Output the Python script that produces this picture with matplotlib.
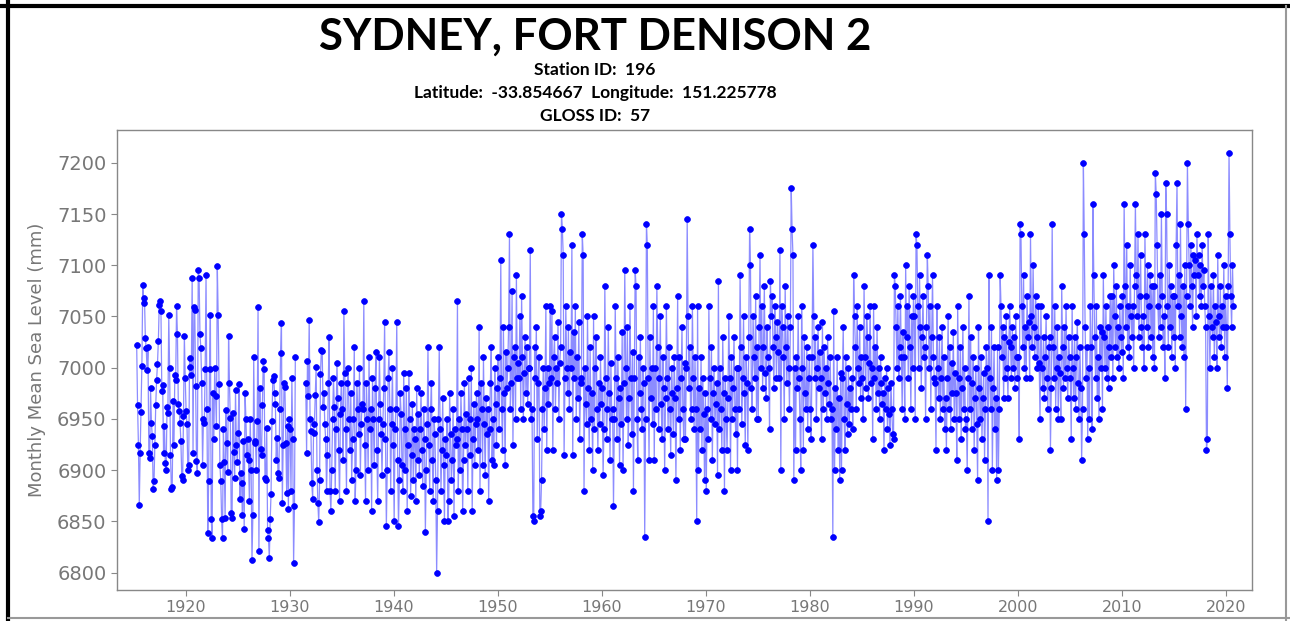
import numpy as np
import matplotlib
matplotlib.use('Agg')
import matplotlib.pyplot as plt
from matplotlib.lines import Line2D

station = 'SYDNEY, FORT DENISON 2'
station_id = 196
lat = -33.854667
lon = 151.225778
gloss_id = 57

start_year = 1915
start_month = 4   # first value is April 1915
nan = np.nan

# monthly mean sea level (mm), one row per year
msl = [
    [7022, 6964, 6925, 6866, 6917, 6957, 7002, 7081, 7063],
    [7068, 7029, 7019, 6998, 7020, 6917, 6912, 6980, 6946, 6933, 6882, 6889],
    [6925, 6964, 6988, 7004, 7026, 7061, 7065, 7055, 6977, 6983, 6917, 6943],
    [6907, 6900, 6962, 6956, 7051, 7000, 6915, 6882, 6884, 6967, 6925, 6993],
    [6988, 7060, 7033, 6965, 6958, 6946, 6928, 6894, 6890, 6953, 7031, 6990],
    [6958, 6945, 6900, 6905, 7009, 7001, 6993, 7088, 6917, 7059, 7056, 6982],
    [6909, 6897, 7095, 7088, 7033, 7019, 6985, 6905, 6950, 6946, 6999, 7090],
    [6960, 6839, 6889, 6999, 7051, 6852, 6834, 6975, 6930, 7000, 6972, 6943],
    [7099, 7051, 6984, 6905, 6889, 6852, 6834, 6940, 6908, 6853, 6959, 6926],
    [6898, 7031, 6985, 6951, 6858, 6853, 6956, 6918, 6892, 6978, 6925, 6908],
    [6936, 6984, 6872, 6897, 6887, 6856, 6928, 6843, 6975, 6950, 6915, 6930],
    [6910, 6870, 6950, 6900, 6812, 6856, 7010, 6926, 6928, 6900, 6948, 7059],
    [6821, 6980, 6921, 6915, 6964, 7007, 6999, 6892, 6890, 6941, 6842, 6834],
    [6814, 6852, 6877, 6948, 6988, 6992, 6975, 6965, 6910, 6931, 6897, 6892],
    [6960, 7014, 7044, 6868, 6925, 6985, 6981, 6926, 6878, 6943, 6862, 6950],
    [6940, 6880, 6990, 6930, 6809, 6865, 7010, nan, nan, nan, nan, nan],
    [nan, nan, nan, nan, nan, nan, 6985, 6917, 7007, 6972, 7047, 6950],
    [6938, 6887, 6872, 6936, 6945, 6973, 7001, 6900, 6868, 6849, 6890, 6994],
    [7017, 7016, 6962, 6975, 6945, 6930, 6880, 6915, 6985, 7030, 6880, 6860],
    [6900, 6950, 6990, 6962, 6880, 6940, 7005, 6970, 6920, 6870, 6955, 6985],
    [6960, 6910, 7055, 6995, 6940, 6880, 6985, 7000, 6950, 6920, 6975, 6890],
    [6930, 6950, 7020, 6870, 6900, 6985, 6960, 6935, 7000, 6895, 6945, 6965],
    [6960, 7065, 6925, 6870, 6985, 6950, 6900, 7010, 6940, 6960, 6860, 6990],
    [6950, 6905, 6980, 7015, 6920, 6870, 6950, 7010, 6965, 6935, 6895, 6945],
    [6980, 7045, 6930, 6845, 6900, 6990, 7015, 6960, 6880, 6945, 7000, 6925],
    [6850, 6940, 6960, 7045, 6910, 6845, 6890, 6975, 6955, 6905, 6880, 6995],
    [6940, 6900, 6980, 6860, 6925, 6995, 6950, 6875, 6915, 6965, 6890, 6940],
    [6930, 6870, 6980, 6910, 6955, 6895, 6940, 6975, 6920, 6885, 6960, 6930],
    [6840, 6900, 6945, 7020, 6925, 6880, 6960, 6985, 6910, 6870, 6950, 6935],
    [6890, 6800, 6860, 6950, 7020, 6940, 6880, 6920, 6970, 6905, 6850, 6930],
    [6915, 6950, 6850, 6870, 6975, 6935, 6890, 6910, 6960, 6855, 6940, 6925],
    [6930, 7065, 6880, 6950, 6900, 6975, 6940, 6860, 6910, 6985, 6925, 6955],
    [6940, 6880, 6990, 6950, 6915, 7000, 6860, 6930, 6965, 6905, 6945, 6975],
    [6950, 6920, 7040, 6880, 6985, 6960, 6905, 7010, 6945, 6895, 6970, 6935],
    [6960, 6870, 6940, 6985, 7020, 6910, 6950, 6905, 7000, 6965, 6925, 6980],
    [7010, 6940, 6990, 7105, 6960, 6920, 7040, 6975, 6905, 7015, 6980, 7000],
    [7040, 7130, 6960, 6985, 7075, 6925, 7010, 7020, 6950, 7090, 6990, 7005],
    [6990, 7050, 6960, 7070, 7010, 6950, 6995, 7030, 6975, 7020, 6965, 7000],
    [7000, 7115, 6950, 6960, 6855, 6850, 7020, 6990, 7040, 6930, 6985, 7010],
    [6855, 6860, 6890, 6960, 7000, 6940, 6980, 7060, 6920, 7000, 6965, 6985],
    [7060, 6990, 7055, 6920, 7010, 7030, 6960, 7000, 6985, 7045, 6950, 7005],
    [7020, 7150, 7135, 7110, 6915, 6990, 7060, 7000, 6975, 7040, 6960, 7015],
    [7000, 7120, 6915, 7035, 6990, 7060, 6950, 7010, 6970, 7045, 6930, 6985],
    [6990, 7130, 7110, 6880, 7000, 6965, 6945, 7050, 6980, 6920, 7020, 6950],
    [6975, 6900, 7050, 6940, 7000, 7030, 6960, 6920, 6985, 6945, 7010, 6965],
    [6980, 6895, 6940, 7080, 6990, 6930, 6960, 7040, 6975, 6910, 7005, 6950],
    [6960, 6865, 6950, 7060, 6990, 6930, 7010, 6970, 6905, 6980, 6945, 7035],
    [6900, 6985, 7095, 7000, 6950, 7040, 6925, 6970, 7060, 6990, 6935, 7015],
    [6880, 6990, 7095, 7080, 6950, 6910, 7010, 6975, 7030, 6960, 6940, 7000],
    [6985, 6835, 6950, 7140, 7120, 6990, 6910, 7030, 6970, 7000, 6945, 7060],
    [6910, 7000, 6960, 7080, 7020, 6940, 6990, 7050, 6965, 6930, 7010, 6980],
    [6900, 6970, 7060, 6990, 6940, 7020, 6960, 6915, 7000, 6975, 6935, 7010],
    [6970, 6890, 6980, 7070, 6950, 7010, 6920, 6990, 7040, 6960, 6930, 7005],
    [6930, 7000, 7145, 7050, 6980, 7020, 6950, 6960, 7060, 6990, 6940, 7010],
    [6960, 6850, 7060, 6900, 6980, 6940, 7010, 6920, 6990, 6955, 6890, 6975],
    [6880, 6960, 6930, 7060, 6990, 6950, 7020, 6910, 6975, 7000, 6945, 6965],
    [6985, 6895, 7085, 6940, 7000, 6960, 6920, 7030, 6975, 6880, 6990, 6950],
    [6920, 6970, 7050, 6990, 6900, 7010, 6950, 6980, 7030, 6960, 6935, 7000],
    [6900, 7000, 6960, 7090, 7020, 6945, 6990, 7050, 6975, 6925, 7010, 6985],
    [6920, 7030, 7135, 7100, 6980, 6960, 7050, 7010, 6990, 7070, 6950, 7020],
    [6950, 7040, 7110, 7000, 7060, 6980, 7020, 7080, 6995, 6970, 7040, 7010],
    [7000, 6940, 7085, 7050, 7070, 7020, 6980, 7060, 7030, 6990, 7045, 7015],
    [6990, 7115, 6900, 7060, 7040, 7010, 6950, 7080, 7020, 6985, 7050, 7000],
    [6960, 7040, 7175, 7135, 7110, 6890, 7000, 6920, 7010, 6980, 7050, 6990],
    [6950, 6900, 7060, 7000, 6920, 7030, 6975, 6960, 7020, 6940, 6990, 7010],
    [6960, 6930, 7010, 7120, 7050, 6990, 7030, 6950, 7000, 7040, 6980, 7015],
    [6990, 6930, 7045, 6960, 7020, 6975, 7000, 6950, 7030, 6985, 6965, 7010],
    [6950, 6960, 6835, 7055, 6900, 6980, 6940, 7010, 6920, 6970, 6890, 6995],
    [6900, 6990, 7040, 6950, 6920, 7010, 6965, 6935, 7000, 6945, 6980, 6960],
    [6990, 6940, 7090, 7050, 7020, 6960, 7060, 7000, 6985, 7040, 6970, 7010],
    [6990, 6950, 7080, 7010, 6980, 7050, 7030, 6970, 7005, 7060, 6985, 7000],
    [6930, 7060, 6990, 7020, 6960, 7040, 6975, 7000, 6950, 7010, 6985, 6965],
    [6975, 6920, 6990, 6960, 7000, 6940, 6980, 6955, 6925, 6985, 6960, 6935],
    [6930, 7090, 7080, 7040, 7000, 7060, 6990, 7020, 7070, 7010, 6960, 7035],
    [7010, 6950, 7100, 7030, 7060, 6990, 7080, 7020, 6960, 7050, 7000, 7070],
    [7050, 6950, 7130, 7120, 7060, 7000, 7090, 7040, 6980, 7030, 7070, 7010],
    [7020, 6950, 7040, 7110, 7080, 7000, 7060, 6960, 7030, 7090, 7010, 6990],
    [6985, 6920, 7060, 7000, 6970, 7030, 6950, 6990, 7040, 6960, 7010, 6940],
    [6970, 6920, 6990, 7050, 6960, 7020, 6940, 7005, 6975, 7035, 6950, 6995],
    [6975, 6910, 7060, 6990, 6950, 7020, 6930, 6980, 7040, 6960, 7000, 6940],
    [6950, 6900, 6990, 7070, 6960, 7030, 6940, 6985, 7010, 6920, 6970, 7000],
    [6945, 6890, 7040, 6980, 6950, 7010, 6930, 6970, 6995, 6910, 6960, 7020],
    [7000, 6850, 7090, 6990, 6960, 7040, 6900, 6980, 7020, 6940, 6970, 6890],
    [7020, 6900, 6960, 7090, 7060, 7010, 7040, 6970, 7030, 6990, 7050, 7000],
    [6970, 7025, 7060, 7020, 6990, 7040, 7000, 7030, 6980, 7050, 7010, 6990],
    [7010, 6930, 7140, 7130, 7060, 7020, 7090, 7000, 7040, 6990, 7070, 7030],
    [7045, 6990, 7130, 7050, 7020, 7100, 7040, 7010, 7070, 7030, 7000, 7060],
    [7005, 6950, 7060, 7000, 6980, 7030, 6970, 7010, 7050, 6990, 6960, 7020],
    [7030, 6920, 6980, 7140, 7020, 6990, 7060, 6960, 7000, 7040, 6950, 7010],
    [6995, 6950, 7080, 7020, 6980, 7040, 6990, 7060, 7000, 6970, 7030, 7010],
    [6990, 6930, 7060, 7000, 6970, 7030, 6960, 7010, 7045, 6985, 6950, 7020],
    [6980, 6910, 6960, 7200, 7130, 7040, 6990, 7020, 6930, 7000, 6950, 7060],
    [7020, 6940, 7160, 7090, 7030, 6990, 7060, 6970, 7010, 6950, 7040, 7000],
    [7035, 6960, 7090, 7030, 7000, 7060, 6990, 7040, 6980, 7020, 7070, 7010],
    [7070, 6990, 7100, 7050, 7020, 7080, 7010, 7040, 7000, 7060, 7030, 7015],
    [7070, 6990, 7160, 7080, 7040, 7120, 7020, 7060, 7010, 7100, 7050, 7030],
    [7060, 7000, 7080, 7160, 7090, 7050, 7130, 7030, 7070, 7110, 7040, 7020],
    [7050, 7000, 7130, 7070, 7040, 7100, 7020, 7060, 7090, 7030, 7080, 7010],
    [7080, 7000, 7190, 7170, 7120, 7060, 7030, 7090, 7040, 7150, 7070, 7020],
    [7050, 6990, 7180, 7150, 7060, 7020, 7100, 7040, 7080, 7010, 7070, 7030],
    [7070, 7000, 7120, 7180, 7060, 7090, 7030, 7140, 7050, 7020, 7080, 7010],
    [7100, 6960, 7070, 7200, 7140, 7100, 7060, 7120, 7080, 7040, 7110, 7090],
    [7105, 7050, 7130, 7090, 7110, 7070, 7100, 7060, 7120, 7080, 7095, 7060],
    [7040, 6920, 6930, 7130, 7050, 7000, 7080, 7040, 7030, 7090, 7010, 7060],
    [7045, 7000, 7110, 7050, 7030, 7080, 7020, 7060, 7040, 7100, 7010, 7070],
    [7040, 6980, 7080, 7210, 7130, 7070, 7040, 7100, 7060],
]

# time axis: mid-month decimal years
vals = [v for row in msl for v in row]
t = start_year + (start_month - 1 + np.arange(len(vals)) + 0.5) / 12.0

fig = plt.figure(figsize=(12.9, 6.21), dpi=100)
ax = fig.add_axes([117/1290, 1 - 590/621, (1252 - 117)/1290, (590 - 130)/621])

ax.plot(t, vals, '-', color='blue', lw=0.9, alpha=0.45)
ax.plot(t, vals, 'o', color='blue', ms=4.2, mec='blue', mew=0.5, ls='none')

ax.set_xlim(1913.4, 2022.5)
ax.set_ylim(6783, 7232)
ax.set_yticks(range(6800, 7201, 50))
ax.set_xticks(range(1920, 2021, 10))
ax.set_ylabel('Monthly Mean Sea Level (mm)', fontsize=13, color='#777777', labelpad=8)
ax.tick_params(axis='both', colors='#888888', labelcolor='#777777', length=4)
ax.tick_params(axis='y', labelsize=14)
ax.tick_params(axis='x', labelsize=11.5)
for s in ax.spines.values():
    s.set_color('#888888')
    s.set_linewidth(1.0)

cx = 595/1290
fig.text(cx, 1 - 37/621, station, ha='center', va='center', fontsize=31.5,
         fontweight='bold', family='Lato')
fig.text(cx, 1 - 70/621, 'Station ID:  %d' % station_id, ha='center', va='center',
         fontsize=12.5, fontweight='bold', family='Lato')
fig.text(cx, 1 - 93/621, 'Latitude:  %.6f  Longitude:  %.6f' % (lat, lon),
         ha='center', va='center', fontsize=12.5, fontweight='bold', family='Lato')
fig.text(cx, 1 - 116/621, 'GLOSS ID:  %d' % gloss_id, ha='center', va='center',
         fontsize=12.5, fontweight='bold', family='Lato')

# screenshot frame
fig.add_artist(Line2D([8/1290, 8/1290], [0, 1], color='black', lw=3))
fig.add_artist(Line2D([0, 1], [1 - 6/621, 1 - 6/621], color='black', lw=3))
fig.add_artist(Line2D([1286/1290, 1286/1290], [0, 1 - 6/621], color='#999999', lw=1.5))
fig.add_artist(Line2D([8/1290, 1], [1 - 618/621, 1 - 618/621], color='#999999', lw=1.5))

fig.savefig('out.png', dpi=100)
plt.close()
